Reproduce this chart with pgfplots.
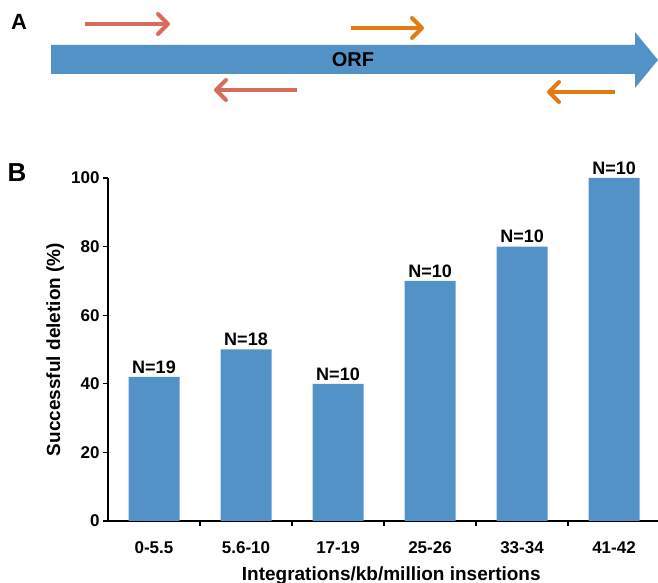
\documentclass[border=0pt]{standalone}
\usepackage{pgfplots}
\pgfplotsset{compat=1.18}
\usepackage{pgfplotstable}
\usepackage{fontspec}
\setmainfont{Liberation Sans}
\usetikzlibrary{arrows.meta}
\definecolor{barblue}{HTML}{5392C7}
\definecolor{salmon}{HTML}{D96A5E}
\definecolor{orng}{HTML}{E27B12}

\pgfplotstableread{
x y n
0 42 19
1 50 18
2 40 10
3 70 10
4 80 10
5 100 10
}\datatable

\begin{document}
\begin{tikzpicture}[x=1pt,y=1pt]
\useasboundingbox (0,0) rectangle (658,583);
% Panel A
\node[font=\fontsize{22}{22}\selectfont\bfseries] at (19,561) {A};
\fill[barblue] (51,509) -- (635,509) -- (635,495) -- (658,523) -- (635,551) -- (635,538) -- (51,538) -- cycle;
\node[font=\fontsize{20}{20}\selectfont\bfseries] at (353,523) {ORF};
\tikzset{gar/.style={line width=4pt, -{Straight Barb[length=10pt,width=20pt,round]}}}
\draw[salmon, gar] (85,559) -- (170,559);
\draw[salmon, gar] (297,493) -- (214,493);
\draw[orng, gar] (351,555) -- (424,555);
\draw[orng, gar] (615,491) -- (547,491);
% Panel B
\node[font=\fontsize{26}{26}\selectfont\bfseries] at (17,410) {B};
\begin{axis}[
  at={(108pt,62pt)}, anchor=south west,
  scale only axis, width=550pt, height=343pt,
  xmin=-0.5, xmax=5.478, ymin=0, ymax=100,
  enlargelimits=false,
  ybar, bar width=51pt,
  axis x line*=bottom, axis y line*=left,
  axis line style={line width=1.3pt, black},
  tick align=outside, major tick length=5pt,
  tick style={line width=1.1pt, black},
  ytick={0,20,...,100},
  xtick={0.5,1.5,2.5,3.5,4.5}, xticklabels={},
  extra x ticks={0,1,2,3,4,5},
  extra x tick labels={0-5.5,5.6-10,17-19,25-26,33-34,41-42},
  extra x tick style={tick style={draw=none}},
  xticklabel style={yshift=-12pt},
  /pgf/number format/assume math mode=true,
  tick label style={font=\fontsize{17}{17}\selectfont\bfseries},
  ylabel={Successful deletion (\%)},
  ylabel style={at={(axis description cs:-0.096,0.5)}, anchor=center, font=\fontsize{19}{19}\selectfont\bfseries},
  xlabel={Integrations/kb/million insertions},
  xlabel style={at={(axis description cs:0.515,-0.158)}, anchor=center, font=\fontsize{19}{19}\selectfont\bfseries},
]
\addplot[fill=barblue, draw=none,
  nodes near coords={N=\pgfplotspointmeta}, point meta=explicit symbolic,
  every node near coord/.append style={font=\fontsize{18}{18}\selectfont\bfseries, black}]
  table[x=x,y=y,meta=n] {\datatable};
\end{axis}
\end{tikzpicture}
\end{document}
